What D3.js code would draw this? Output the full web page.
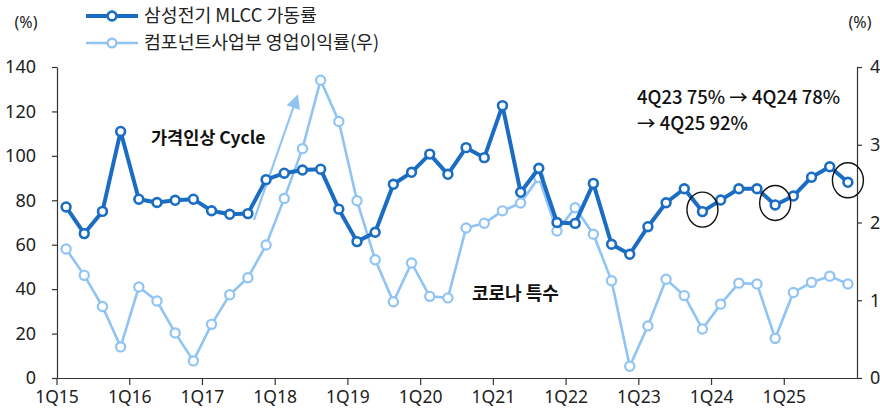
<!DOCTYPE html>
<html>
<head>
<meta charset="utf-8">
<script src="https://cdn.jsdelivr.net/npm/d3@7"></script>
<style>
  body { margin: 0; background: #fff; }
  svg { display: block; font-family: "Noto Sans CJK KR", "Noto Sans", sans-serif; }
</style>
</head>
<body>
<div id="chart"></div>
<script>
// 분기 라벨 (1Q15 ~ 4Q25)
const years = ['15', '16', '17', '18', '19', '20', '21', '22', '23', '24', '25'];
const quarters = years.flatMap(y => [1, 2, 3, 4].map(q => q + 'Q' + y));
const yearTicks = years.map(y => '1Q' + y);

// 삼성전기 MLCC 가동률 (좌축, %)
const mlccUtil = [77, 65, 75, 111, 80.5, 79, 80, 80.5, 75.3, 73.7, 74, 89.3,
    92.2, 93.6, 94, 76, 61.4, 65.6, 87.2, 92.6, 100.8, 91.7, 103.7, 99.2,
    122.6, 83.6, 94.4, 70, 69.6, 87.6, 60.2, 55.7, 68.1, 78.9, 85.2, 74.9,
    80.1, 85.2, 85.2, 77.9, 81.9, 90.4, 95.1, 88.1];

// 컴포넌트사업부 영업이익률 (우축, %)
const compMargin = [16.6, 13.2, 9.2, 4.0, 11.7, 9.9, 5.8, 2.2, 6.9, 10.7, 12.9, 17.1,
    23.1, 29.5, 38.3, 33.0, 22.8, 15.2, 9.8, 14.8, 10.5, 10.3, 19.3, 19.9,
    21.5, 22.5, 25.8, 18.9, 21.9, 18.5, 12.5, 1.5, 6.7, 12.7, 10.6, 6.3,
    9.5, 12.2, 12.1, 5.1, 11.0, 12.3, 13.1, 12.1];

const leftTicks = [0, 20, 40, 60, 80, 100, 120, 140];
const rightTicks = [0, 10, 20, 30, 40];
const circled = ['4Q23', '4Q24', '4Q25'];

const width = 880, height = 414;
const margin = {top: 67, right: 23, bottom: 36, left: 57};
const darkBlue = '#1a6dc3', lightBlue = '#90c4f4', axisColor = '#333';

const svg = d3.select('#chart').append('svg')
    .attr('width', width)
    .attr('height', height);

const x = d3.scaleBand()
    .domain(quarters)
    .range([margin.left, width - margin.right]);

const yLeft = d3.scaleLinear()
    .domain([0, 140])
    .range([height - margin.bottom, margin.top]);

const yRight = d3.scaleLinear()
    .domain([0, 40])
    .range([height - margin.bottom, margin.top]);

const cx = q => x(q) + x.bandwidth() / 2;

// 축
const leftAxis = svg.append('g')
    .attr('transform', `translate(${margin.left},0)`)
    .call(d3.axisLeft(yLeft).tickValues(leftTicks).tickSize(5).tickPadding(16).tickSizeOuter(0));

const rightAxis = svg.append('g')
    .attr('transform', `translate(${width - margin.right},0)`)
    .call(d3.axisRight(yRight).tickValues(rightTicks).tickSize(5).tickPadding(8).tickSizeOuter(0));

const bottomAxis = svg.append('g')
    .attr('transform', `translate(0,${height - margin.bottom})`)
    .call(d3.axisBottom(x).tickValues(yearTicks).tickSize(7).tickPadding(6).tickSizeOuter(0));

// 연도 눈금은 구간 시작 위치
bottomAxis.selectAll('.tick')
    .attr('transform', d => `translate(${x(d)},0)`);

[leftAxis, rightAxis, bottomAxis].forEach(g => {
    g.select('.domain').attr('stroke', axisColor).attr('stroke-width', 1.2);
    g.selectAll('.tick line').attr('stroke', axisColor).attr('stroke-width', 1.2);
    g.selectAll('.tick text')
        .attr('fill', '#222')
        .attr('font-size', 18)
        .attr('font-family', '"Noto Sans", sans-serif');
});
bottomAxis.selectAll('.tick text').attr('font-size', 17.5);

// 단위
svg.append('text').attr('x', 26).attr('y', 28)
    .attr('text-anchor', 'middle').attr('font-size', 16).attr('fill', '#222')
    .attr('font-family', '"Noto Sans", sans-serif').text('(%)');
svg.append('text').attr('x', 860).attr('y', 28)
    .attr('text-anchor', 'middle').attr('font-size', 16).attr('fill', '#222')
    .attr('font-family', '"Noto Sans", sans-serif').text('(%)');

// 가격인상 화살표
svg.append('defs').append('marker')
    .attr('id', 'arrowHead')
    .attr('viewBox', '0 0 10 10')
    .attr('refX', 8).attr('refY', 5)
    .attr('markerWidth', 6.5).attr('markerHeight', 6.5)
    .attr('markerUnits', 'strokeWidth')
    .attr('orient', 'auto')
    .append('path')
    .attr('d', 'M0,0 L10,5 L0,10 Z')
    .attr('fill', lightBlue);

svg.append('line')
    .attr('x1', 254).attr('y1', 220)
    .attr('x2', 297).attr('y2', 97)
    .attr('stroke', lightBlue)
    .attr('stroke-width', 2.2)
    .attr('marker-end', 'url(#arrowHead)');

// 영업이익률 (연한 파랑)
const lineRight = d3.line()
    .x((d, i) => cx(quarters[i]))
    .y(d => yRight(d));

svg.append('path')
    .datum(compMargin)
    .attr('fill', 'none')
    .attr('stroke', lightBlue)
    .attr('stroke-width', 2.6)
    .attr('d', lineRight);

svg.append('g').selectAll('circle')
    .data(compMargin)
    .join('circle')
    .attr('cx', (d, i) => cx(quarters[i]))
    .attr('cy', d => yRight(d))
    .attr('r', 4.6)
    .attr('fill', '#fff')
    .attr('stroke', lightBlue)
    .attr('stroke-width', 2.2);

// 가동률 (진한 파랑)
const lineLeft = d3.line()
    .x((d, i) => cx(quarters[i]))
    .y(d => yLeft(d));

svg.append('path')
    .datum(mlccUtil)
    .attr('fill', 'none')
    .attr('stroke', darkBlue)
    .attr('stroke-width', 4)
    .attr('stroke-linejoin', 'round')
    .attr('d', lineLeft);

svg.append('g').selectAll('circle')
    .data(mlccUtil)
    .join('circle')
    .attr('cx', (d, i) => cx(quarters[i]))
    .attr('cy', d => yLeft(d))
    .attr('r', 4.4)
    .attr('fill', '#fff')
    .attr('stroke', darkBlue)
    .attr('stroke-width', 2.6);

// 강조 타원
svg.append('g').selectAll('ellipse')
    .data(circled)
    .join('ellipse')
    .attr('cx', q => cx(q))
    .attr('cy', q => yLeft(mlccUtil[quarters.indexOf(q)]) - 2)
    .attr('rx', 15.5)
    .attr('ry', 17.5)
    .attr('fill', 'none')
    .attr('stroke', '#111')
    .attr('stroke-width', 1.4);

// 주석
svg.append('text').attr('x', 151).attr('y', 144)
    .attr('font-size', 17.5).attr('font-weight', 'bold').attr('fill', '#111')
    .text('가격인상 Cycle');
svg.append('text').attr('x', 472).attr('y', 300)
    .attr('font-size', 18).attr('font-weight', 'bold').attr('fill', '#111')
    .text('코로나 특수');
svg.append('text').attr('x', 637).attr('y', 104)
    .attr('font-size', 18.5).attr('font-weight', 500).attr('fill', '#111')
    .text('4Q23 75% → 4Q24 78%');
svg.append('text').attr('x', 637).attr('y', 130)
    .attr('font-size', 18.5).attr('font-weight', 500).attr('fill', '#111')
    .text('→ 4Q25 92%');

// 범례
const legendItems = [
    {label: '삼성전기 MLCC 가동률', color: darkBlue, width: 4, stroke: 2.6, y: 16},
    {label: '컴포넌트사업부 영업이익률(우)', color: lightBlue, width: 2.6, stroke: 2.2, y: 43}
];
const legend = svg.append('g').selectAll('g')
    .data(legendItems)
    .join('g')
    .attr('transform', d => `translate(0,${d.y})`);

legend.append('line')
    .attr('x1', 86).attr('x2', 138)
    .attr('stroke', d => d.color)
    .attr('stroke-width', d => d.width);
legend.append('circle')
    .attr('cx', 112).attr('r', 4.4)
    .attr('fill', '#fff')
    .attr('stroke', d => d.color)
    .attr('stroke-width', d => d.stroke);
legend.append('text')
    .attr('x', 144).attr('dy', '0.35em')
    .attr('font-size', 18.3).attr('fill', '#222')
    .text(d => d.label);
</script>
</body>
</html>
